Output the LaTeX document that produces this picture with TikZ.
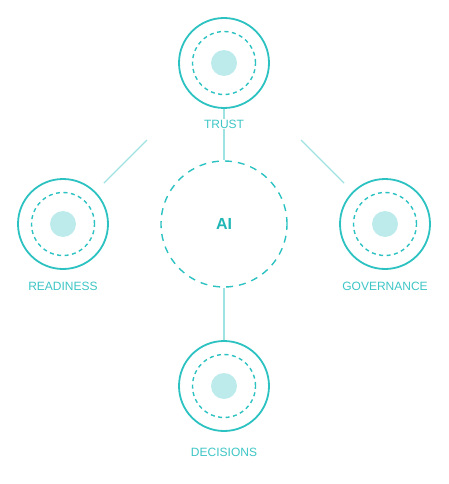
\documentclass[tikz,border=0pt]{standalone}
\usepackage{fontspec}
\setmainfont{Liberation Sans}
\usepackage{tikz}
\usepackage{xcolor}

\definecolor{ringteal}{HTML}{2CC2C2}
\definecolor{dotteal}{HTML}{BDEBEB}
\definecolor{linkteal}{HTML}{9EE2E2}
\definecolor{textteal}{HTML}{3EC6C6}
\definecolor{aiteal}{HTML}{20B6B6}

\begin{document}
\begin{tikzpicture}[x=1pt, y=-1pt,
    pillar/.style={circle, draw=ringteal, line width=1.8pt, minimum size=90pt, inner sep=0pt},
    ring/.style={circle, draw=ringteal, line width=1.4pt, dash pattern=on 4pt off 3.5pt, minimum size=63pt, inner sep=0pt},
    dot/.style={circle, fill=dotteal, minimum size=26pt, inner sep=0pt},
    core/.style={circle, draw=ringteal, line width=1.4pt, dash pattern=on 7pt off 6pt, minimum size=126pt, inner sep=0pt},
    link/.style={draw=linkteal, line width=1.3pt},
    lbl/.style={text=textteal, font=\fontsize{12}{14}\selectfont, fill=white, inner sep=1pt}]
    \useasboundingbox (0,0) rectangle (448,484);

    \node[core, text=aiteal, font=\fontsize{16}{18}\selectfont\bfseries] (ai) at (224,224) {AI};

    \node[pillar] (trust)      at (224,63)  {};
    \node[pillar] (readiness)  at (63,224)  {};
    \node[pillar] (governance) at (385,224) {};
    \node[pillar] (decisions)  at (224,386) {};

    \foreach \n in {trust, readiness, governance, decisions} {
        \node[ring] at (\n) {};
        \node[dot]  at (\n) {};
    }

    \draw[link] (trust) -- (ai);
    \draw[link] (ai) -- (decisions);
    \draw[link, shorten <=12pt, shorten >=63pt] (readiness) -- (trust);
    \draw[link, shorten <=12pt, shorten >=63pt] (governance) -- (trust);

    \node[lbl] (trustlbl)      at (224,124) {TRUST};
    \node[lbl] (readinesslbl)  at (63,286)  {READINESS};
    \node[lbl] (governancelbl) at (385,286) {GOVERNANCE};
    \node[lbl] (decisionslbl)  at (224,452) {DECISIONS};
\end{tikzpicture}
\end{document}
